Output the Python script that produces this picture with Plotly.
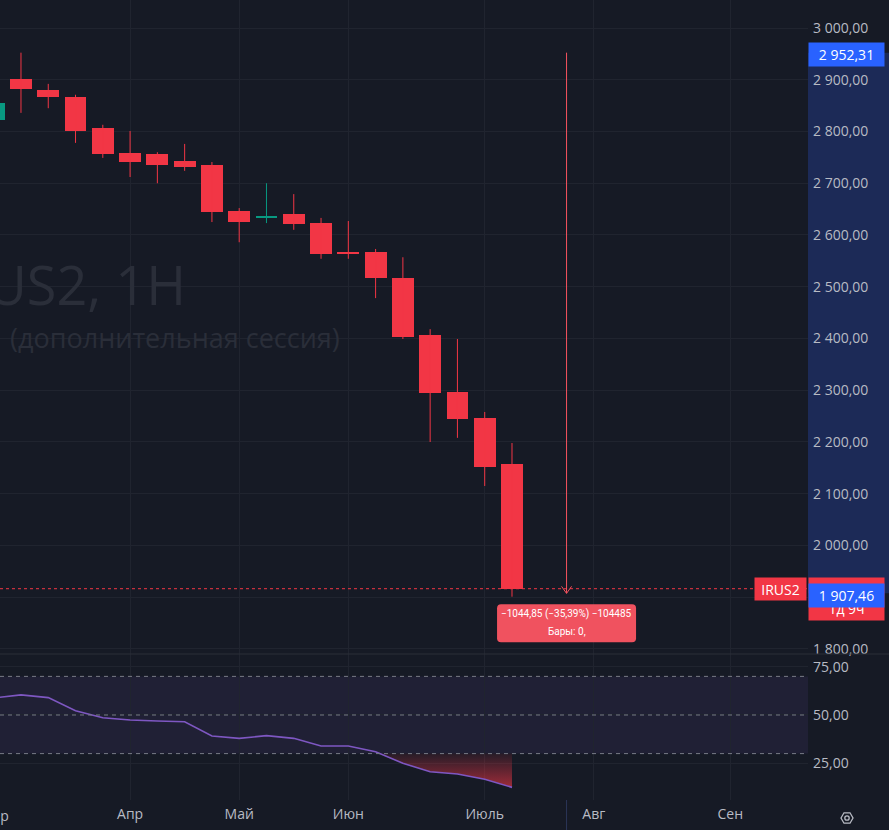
import datetime as dt
import plotly.graph_objects as go

# ---------------- data ----------------
start_week = dt.datetime(2026, 3, 2)
n_bars = 20
dates = [start_week + dt.timedelta(weeks=i) for i in range(n_bars)]

opens  = [2822, 2901, 2880, 2867, 2807, 2758, 2757, 2743, 2735, 2646, 2633, 2640, 2623, 2567, 2567, 2517, 2407, 2297, 2246, 2157.5]
highs  = [2870, 2952.31, 2892, 2871, 2813, 2801, 2760, 2776, 2741, 2652, 2700, 2679, 2633, 2627, 2573, 2557, 2418, 2399, 2258, 2198]
lows   = [2810, 2836, 2845, 2778, 2749, 2712, 2700, 2724, 2625, 2586, 2623, 2610, 2554, 2554, 2478, 2399, 2200, 2208, 2115, 1901]
closes = [2855, 2882, 2867, 2801, 2757, 2741, 2735, 2731, 2644, 2625, 2637, 2621, 2563, 2564, 2517, 2403, 2295, 2244, 2152, 1916.47]

rsi = [58.8, 60.4, 59.0, 52.2, 48.6, 47.4, 46.9, 46.5, 39.1, 37.9, 39.3, 37.9, 33.9, 33.9, 31.0, 25.0, 20.6, 19.4, 16.7, 12.5]

price_ticks = [1800, 1900, 2000, 2100, 2200, 2300, 2400, 2500, 2600, 2700, 2800, 2900, 3000]
price_hidden = [1900]
rsi_ticks = [25, 50, 75]
rsi_levels = [30, 50, 70]

month_names = {3: "Мар", 4: "Апр", 5: "Май", 6: "Июн", 7: "Июль", 8: "Авг", 9: "Сен"}

measure_high = 2952.31
measure_low = 1907.46
measure_bar = 21  # bar index where the measurement was drawn
measure_text = "−1044,85 (−35,39%) −104485"
measure_bars_text = "Бары: 0,"
symbol = "IRUS2"
countdown = "1д 9ч"
watermark1 = "IRUS2, 1H"
watermark2 = "(дополнительная сессия)"

# ---------------- style ----------------
BG = "#161a25"
GRID = "#20242f"
TXT = "#b8bbc4"
UP = "#089981"
DN = "#f23645"
FONT = "Open Sans"
FONT_SMALL = "Roboto"
DAY_MS = 86400000

def fmt(v):
    s = f"{v:,.2f}"
    return s.replace(",", " ").replace(".", ",")

week_dates = [start_week + dt.timedelta(weeks=i) for i in range(31)]
tickvals, ticktext, seen = [], [], set()
for d in week_dates:
    if d.month not in seen:
        seen.add(d.month)
        tickvals.append(d)
        ticktext.append(month_names.get(d.month, ""))

x_range = [start_week + dt.timedelta(days=1.617), start_week + dt.timedelta(days=208.96)]

fig = go.Figure()

# wicks
for col, cond in ((UP, lambda o, c: c >= o), (DN, lambda o, c: c < o)):
    wx, wy = [], []
    for d, o, h, l, c in zip(dates, opens, highs, lows, closes):
        if cond(o, c):
            wx += [d, d, None]
            wy += [l, h, None]
    fig.add_trace(go.Scatter(x=wx, y=wy, mode="lines", line=dict(color=col, width=1),
                             hoverinfo="skip", showlegend=False, xaxis="x", yaxis="y"))

# bodies
fig.add_trace(go.Bar(
    x=dates,
    y=[max(abs(c - o), 1.5) for o, c in zip(opens, closes)],
    base=[min(o, c) for o, c in zip(opens, closes)],
    width=5.6 * DAY_MS,
    marker=dict(color=[UP if c >= o else DN for o, c in zip(opens, closes)], line=dict(width=0)),
    showlegend=False, xaxis="x", yaxis="y"))

# RSI oversold gradient fill
lvl = 30
k = next(i for i in range(1, len(rsi)) if rsi[i] < lvl <= rsi[i - 1])
frac = (rsi[k - 1] - lvl) / (rsi[k - 1] - rsi[k])
t_cross = dates[k - 1] + (dates[k] - dates[k - 1]) * frac
px_ = [t_cross] + dates[k:] + [dates[-1], t_cross]
py_ = [lvl] + rsi[k:] + [lvl, lvl]
fig.add_trace(go.Scatter(
    x=px_, y=py_, mode="lines", line=dict(width=0), fill="toself",
    fillgradient=dict(type="vertical", start=0, stop=lvl,
                      colorscale=[[0, "rgba(242,54,69,1)"], [1, "rgba(242,54,69,0.08)"]]),
    hoverinfo="skip", showlegend=False, xaxis="x2", yaxis="y2"))

fig.add_trace(go.Scatter(x=dates, y=rsi, mode="lines", line=dict(color="#7e57c2", width=1.6),
                         showlegend=False, xaxis="x2", yaxis="y2"))

shapes = []
# RSI band and levels
shapes.append(dict(type="rect", xref="x2 domain", yref="y2", x0=0, x1=1, y0=rsi_levels[0], y1=rsi_levels[-1],
                   fillcolor="rgba(126,87,194,0.1)", line=dict(width=0), layer="below"))
for lv in rsi_levels:
    shapes.append(dict(type="line", xref="x2 domain", yref="y2", x0=0, x1=1, y0=lv, y1=lv,
                       line=dict(color="#787b86", width=1, dash="4px,4px")))
# pane separator
shapes.append(dict(type="line", xref="paper", yref="paper", x0=0, x1=1.1003, y0=0.1825, y1=0.1825,
                   line=dict(color="#2a2e39", width=1)))
# last price dotted line
shapes.append(dict(type="line", xref="x domain", yref="y", x0=0, x1=1, y0=closes[-1], y1=closes[-1],
                   line=dict(color=DN, width=1, dash="dot")))
# measurement highlight on price scale
shapes.append(dict(type="rect", xref="paper", yref="y", x0=1, x1=1.1003, y0=measure_low, y1=measure_high,
                   fillcolor="#1c2a57", line=dict(width=0), layer="below"))
m_date = start_week + dt.timedelta(weeks=measure_bar)
shapes.append(dict(type="line", xref="x", yref="y", x0=m_date, x1=m_date, y0=measure_high, y1=measure_low,
                   line=dict(color="#f7525f", width=1)))
shapes.append(dict(type="path", xref="x", yref="y", xsizemode="pixel", ysizemode="pixel",
                   xanchor=m_date, yanchor=measure_low, path="M-5,7L0,0L5,7",
                   line=dict(color="#f7525f", width=1)))
# tooltip box
shapes.append(dict(type="path", xref="x", yref="y", xsizemode="pixel", ysizemode="pixel",
                   xanchor=m_date, yanchor=measure_low,
                   path="M-65.5,-11L65.5,-11Q69.5,-11 69.5,-15L69.5,-45Q69.5,-49 65.5,-49L-65.5,-49Q-69.5,-49 -69.5,-45L-69.5,-15Q-69.5,-11 -65.5,-11Z",
                   fillcolor="#f0525f", line=dict(width=0)))
# time axis marker
shapes.append(dict(type="line", xref="x2", yref="paper", x0=m_date, x1=m_date, y0=-0.0375, y1=0,
                   line=dict(color="#2b3558", width=1)))
# gear icon
shapes.append(dict(type="path", xref="paper", yref="paper", xsizemode="pixel", ysizemode="pixel",
                   xanchor=847 / 808, yanchor=-18 / 800,
                   path="M-6,0L-3,5.2L3,5.2L6,0L3,-5.2L-3,-5.2Z", line=dict(color=TXT, width=1.3)))
shapes.append(dict(type="circle", xref="paper", yref="paper", xsizemode="pixel", ysizemode="pixel",
                   xanchor=847 / 808, yanchor=-18 / 800, x0=-2.2, x1=2.2, y0=-2.2, y1=2.2,
                   line=dict(color=TXT, width=1.3)))

ann = []
ann.append(dict(text=watermark1, xref="paper", yref="paper", x=188 / 808, y=1 - 284 / 800,
                xanchor="right", yanchor="middle", showarrow=False,
                font=dict(family=FONT, size=54, color="#2a2e39")))
ann.append(dict(text=watermark2, xref="paper", yref="paper", x=8 / 808, y=1 - 337 / 800,
                xanchor="left", yanchor="middle", showarrow=False,
                font=dict(family=FONT, size=27, color="#2a2e39")))
ann.append(dict(text=measure_text, xref="x", yref="y", x=m_date, y=measure_low, yshift=-21,
                xanchor="center", yanchor="middle", showarrow=False,
                font=dict(family=FONT_SMALL, size=10, color="white")))
ann.append(dict(text=measure_bars_text, xref="x", yref="y", x=m_date, y=measure_low, yshift=-38,
                xanchor="center", yanchor="middle", showarrow=False,
                font=dict(family=FONT_SMALL, size=10, color="white")))
# price scale labels
ann.append(dict(text=fmt(measure_high), xref="paper", yref="y", x=1, y=measure_high, yshift=-2,
                xanchor="left", yanchor="middle", showarrow=False, bgcolor="#2962ff",
                width=71, height=19, borderpad=2, font=dict(family=FONT, size=14, color="white")))
ann.append(dict(text=fmt(closes[-1]) + "<br>" + countdown, xref="paper", yref="y", x=1, y=closes[-1],
                yshift=12, xanchor="left", yanchor="top", showarrow=False, bgcolor=DN,
                width=71, height=38, borderpad=2, font=dict(family=FONT, size=14, color="white")))
ann.append(dict(text=fmt(measure_low), xref="paper", yref="y", x=1, y=measure_low, yshift=-2,
                xanchor="left", yanchor="middle", showarrow=False, bgcolor="#2962ff",
                width=71, height=19, borderpad=2, font=dict(family=FONT, size=14, color="white")))
ann.append(dict(text=symbol, xref="paper", yref="y", x=1, y=closes[-1], xshift=-1,
                xanchor="right", yanchor="middle", showarrow=False, bgcolor=DN,
                width=47, height=18, borderpad=2, font=dict(family=FONT, size=14, color="white")))
ann.append(dict(text=month_names[start_week.month], xref="paper", yref="paper", x=0, xshift=-6,
                y=-15 / 800, xanchor="center", yanchor="middle", showarrow=False,
                font=dict(family=FONT, size=14, color=TXT)))

axis_common = dict(showline=False, zeroline=False, ticks="", gridcolor=GRID, gridwidth=1,
                   tickfont=dict(family=FONT, size=14, color=TXT))

fig.update_layout(
    width=889, height=830,
    margin=dict(l=0, r=81, t=0, b=30),
    paper_bgcolor=BG, plot_bgcolor=BG,
    bargap=0, showlegend=False,
    xaxis=dict(domain=[0, 1], anchor="y", type="date", range=x_range, tickvals=tickvals,
               ticktext=ticktext, showticklabels=False, **axis_common),
    xaxis2=dict(domain=[0, 1], anchor="y2", type="date", range=x_range, tickvals=tickvals,
                ticktext=ticktext, matches="x", showticklabels=True, ticklabelstandoff=4,
                **axis_common),
    yaxis=dict(domain=[0.1825, 1], anchor="x", side="right", range=[1790.3, 3054.1],
               tickvals=price_ticks,
               ticktext=["" if v in price_hidden else fmt(v) for v in price_ticks],
               ticklabelstandoff=4, **axis_common),
    yaxis2=dict(domain=[0, 0.1825], anchor="x2", side="right", range=[5.96, 81.6],
                tickvals=rsi_ticks, ticktext=[fmt(v) for v in rsi_ticks],
                ticklabelstandoff=4, **axis_common),
    shapes=shapes, annotations=ann,
)

fig.write_html("out.html")
